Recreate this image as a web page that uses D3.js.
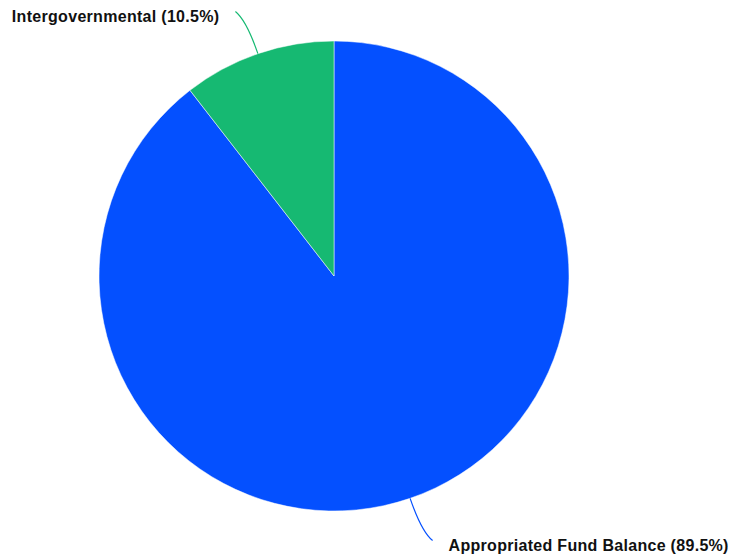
<!DOCTYPE html>
<html>
<head>
<meta charset="utf-8">
<script src="https://cdn.jsdelivr.net/npm/d3@7"></script>
<style>
  html, body { margin: 0; padding: 0; background: #ffffff; }
  svg { display: block; }
  text { font-family: "Liberation Sans", Arial, Helvetica, sans-serif; font-weight: bold; font-size: 16px; letter-spacing: 0.3px; fill: #111; }
</style>
</head>
<body>
<svg id="chart" width="730" height="559"></svg>
<script>
const categories = ["Appropriated Fund Balance", "Intergovernmental"];
const values = [89.5, 10.5];
const colors = ["#0450FF", "#16B972"];

const width = 730, height = 559;
const cx = 334, cy = 276, radius = 235;

const svg = d3.select("#chart");
const g = svg.append("g").attr("transform", `translate(${cx},${cy})`);

const data = categories.map((c, i) => ({ name: c, value: values[i], color: colors[i] }));
const pie = d3.pie().sort(null).value(d => d.value);
const arcs = pie(data);
const arc = d3.arc().innerRadius(0).outerRadius(radius);

g.selectAll("path.slice")
  .data(arcs)
  .enter().append("path")
  .attr("class", "slice")
  .attr("d", arc)
  .attr("fill", d => d.data.color)
  .attr("stroke", "#ffffff")
  .attr("stroke-width", 0.5);

function polar(a, r) { return [Math.sin(a) * r, -Math.cos(a) * r]; }

arcs.forEach(d => {
  const mid = (d.startAngle + d.endAngle) / 2;
  const side = Math.sin(mid) >= 0 ? 1 : -1;
  const p0 = polar(mid, radius);
  const p1 = polar(mid, radius * 1.15);
  const pe = polar(mid, radius * 1.19);
  const p2 = [pe[0] + side * 8, pe[1]];
  g.append("path")
    .attr("d", `M${p0[0]},${p0[1]} Q${p1[0]},${p1[1]} ${p2[0]},${p2[1]}`)
    .attr("fill", "none")
    .attr("stroke", d.data.color)
    .attr("stroke-width", 1.2);
  g.append("text")
    .attr("x", p2[0] + side * 16)
    .attr("y", p2[1] + 10.5)
    .attr("text-anchor", side > 0 ? "start" : "end")
    .text(`${d.data.name} (${d.data.value.toFixed(1)}%)`);
});
</script>
</body>
</html>
